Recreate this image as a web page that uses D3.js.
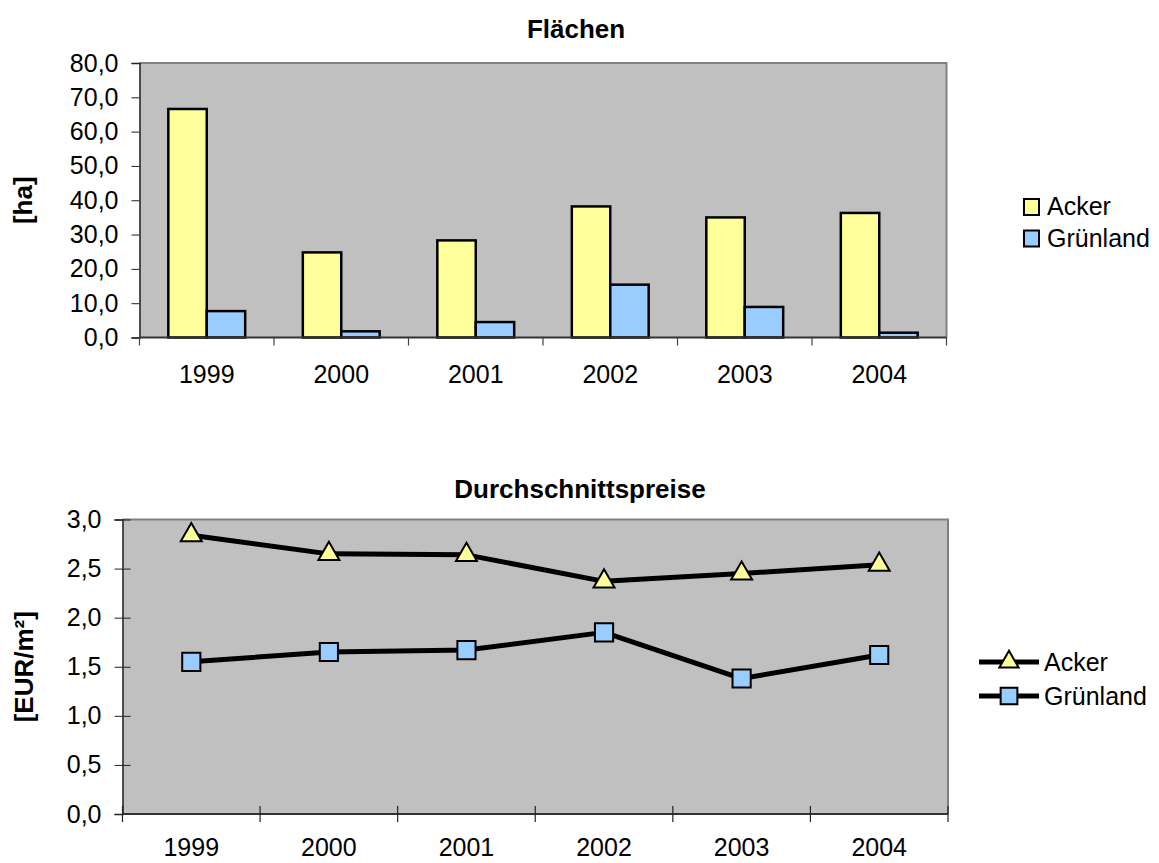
<!DOCTYPE html>
<html>
<head>
<meta charset="utf-8">
<script src="https://cdn.jsdelivr.net/npm/d3@7"></script>
<style>
  body { margin: 0; background: #fff; }
  svg { display: block; font-family: "Liberation Sans", Arial, sans-serif; }
</style>
</head>
<body>
<svg id="chart" width="1159" height="863"></svg>
<script>
// Daten
const jahre = ['1999', '2000', '2001', '2002', '2003', '2004'];
const flaecheAcker = [66.6, 24.8, 28.3, 38.2, 35.0, 36.3];
const flaecheGruenland = [7.7, 1.8, 4.5, 15.4, 8.9, 1.4];
const preisAcker = [2.84, 2.65, 2.64, 2.37, 2.45, 2.54];
const preisGruenland = [1.55, 1.65, 1.67, 1.85, 1.38, 1.62];
const serien = ['Acker', 'Grünland'];
const flaechenTicks = [0, 10, 20, 30, 40, 50, 60, 70, 80];
const preisTicks = [0, 0.5, 1, 1.5, 2, 2.5, 3];

const farben = { 'Acker': '#FFFF99', 'Grünland': '#99CCFF' };
const komma = d => d3.format('.1f')(d).replace('.', ',');
const schrift = 25;

const svg = d3.select('#chart');

// Hilfsfunktion: Plotfläche mit Rahmen
function plotflaeche(g, w, h) {
  g.append('rect').attr('width', w).attr('height', h).attr('fill', '#C0C0C0');
  g.append('path')
    .attr('d', `M0,0H${w}V${h}`)
    .attr('fill', 'none').attr('stroke', '#808080').attr('stroke-width', 2);
}

// ---------- Flächen (Balken) ----------
const o1 = { links: 139.5, oben: 63, rechts: 946.5, unten: 337.5 };
const w1 = o1.rechts - o1.links, h1 = o1.unten - o1.oben;
const g1 = svg.append('g').attr('transform', `translate(${o1.links},${o1.oben})`);
plotflaeche(g1, w1, h1);

const x1 = d3.scaleBand().domain(jahre).range([0, w1]);
const y1 = d3.scaleLinear().domain([0, 80]).range([h1, 0]);
const balkenBreite = x1.bandwidth() / 3.5;
const xs = d3.scaleBand().domain(serien).range([0, 2 * balkenBreite]);

const balkenDaten = jahre.map((j, i) => ({ jahr: j, werte: [
  { serie: 'Acker', wert: flaecheAcker[i] },
  { serie: 'Grünland', wert: flaecheGruenland[i] }
]}));

g1.selectAll('.gruppe')
  .data(balkenDaten)
  .enter().append('g')
  .attr('transform', d => `translate(${x1(d.jahr) + (x1.bandwidth() - 2 * balkenBreite) / 2},0)`)
  .selectAll('rect')
  .data(d => d.werte)
  .enter().append('rect')
  .attr('x', d => xs(d.serie))
  .attr('y', d => y1(d.wert))
  .attr('width', xs.bandwidth())
  .attr('height', d => y1(0) - y1(d.wert))
  .attr('fill', d => farben[d.serie])
  .attr('stroke', '#000')
  .attr('stroke-width', 2.5);

// y-Achse
g1.append('g')
  .call(d3.axisLeft(y1).tickValues(flaechenTicks).tickFormat(komma).tickSize(8).tickPadding(13))
  .call(g => g.select('.domain').attr('stroke', '#222').attr('stroke-width', 1.5))
  .call(g => g.selectAll('.tick line').attr('stroke', '#222'))
  .call(g => g.selectAll('.tick text').attr('font-size', schrift).attr('fill', '#000').attr('font-family', null));

// x-Achse
const ax1 = g1.append('g').attr('transform', `translate(0,${h1})`);
ax1.append('line').attr('x1', 0).attr('x2', w1).attr('stroke', '#333').attr('stroke-width', 2);
ax1.selectAll('.tk').data(jahre.concat(['ende']))
  .enter().append('line')
  .attr('x1', d => d === 'ende' ? w1 : x1(d)).attr('x2', d => d === 'ende' ? w1 : x1(d))
  .attr('y1', 0).attr('y2', 8).attr('stroke', '#444').attr('stroke-width', 1.2);
ax1.selectAll('.lbl').data(jahre)
  .enter().append('text')
  .attr('x', d => x1(d) + x1.bandwidth() / 2)
  .attr('y', 45.5)
  .attr('text-anchor', 'middle').attr('font-size', schrift)
  .text(d => d);

svg.append('text').attr('x', 576).attr('y', 38)
  .attr('text-anchor', 'middle').attr('font-weight', 'bold').attr('font-size', 26)
  .text('Flächen');
svg.append('text')
  .attr('transform', `translate(32,${o1.oben + h1 / 2}) rotate(-90)`)
  .attr('text-anchor', 'middle').attr('font-weight', 'bold').attr('font-size', 26)
  .text('[ha]');

// Legende oben
const leg1 = svg.append('g').attr('transform', 'translate(1024,199)');
serien.forEach((s, i) => {
  const e = leg1.append('g').attr('transform', `translate(0,${i * 31.5})`);
  e.append('rect').attr('width', 15).attr('height', 16)
    .attr('fill', farben[s]).attr('stroke', '#000').attr('stroke-width', 2);
  e.append('text').attr('x', 23).attr('y', 16).attr('font-size', schrift).text(s);
});

// ---------- Durchschnittspreise (Linien) ----------
const o2 = { links: 122.5, oben: 519.5, rechts: 948, unten: 814 };
const w2 = o2.rechts - o2.links, h2 = o2.unten - o2.oben;
const g2 = svg.append('g').attr('transform', `translate(${o2.links},${o2.oben})`);
plotflaeche(g2, w2, h2);

const x2 = d3.scaleBand().domain(jahre).range([0, w2]);
const y2 = d3.scaleLinear().domain([0, 3]).range([h2, 0]);
const mitte = d => x2(d) + x2.bandwidth() / 2;

g2.append('g')
  .call(d3.axisLeft(y2).tickValues(preisTicks).tickFormat(komma).tickSize(8).tickPadding(13))
  .call(g => g.select('.domain').attr('stroke', '#222').attr('stroke-width', 1.5))
  .call(g => g.selectAll('.tick line').attr('stroke', '#222').attr('x2', -8).attr('x1', 8))
  .call(g => g.selectAll('.tick text').attr('font-size', schrift).attr('fill', '#000').attr('font-family', null));

const ax2 = g2.append('g').attr('transform', `translate(0,${h2})`);
ax2.append('line').attr('x1', 0).attr('x2', w2).attr('stroke', '#333').attr('stroke-width', 2);
ax2.selectAll('.tk').data(jahre.concat(['ende']))
  .enter().append('line')
  .attr('x1', d => d === 'ende' ? w2 : x2(d)).attr('x2', d => d === 'ende' ? w2 : x2(d))
  .attr('y1', -8).attr('y2', 8).attr('stroke', '#222').attr('stroke-width', 1.2);
ax2.selectAll('.lbl').data(jahre)
  .enter().append('text')
  .attr('x', d => mitte(d))
  .attr('y', 42)
  .attr('text-anchor', 'middle').attr('font-size', schrift)
  .text(d => d);

const linien = [
  { serie: 'Acker', werte: preisAcker, symbol: d3.symbolTriangle, groesse: 190 },
  { serie: 'Grünland', werte: preisGruenland, symbol: d3.symbolSquare, groesse: 330 }
];
const linie = d3.line().x(d => mitte(d.jahr)).y(d => y2(d.wert));

linien.forEach(l => {
  const pkt = jahre.map((j, i) => ({ jahr: j, wert: l.werte[i] }));
  g2.append('path').datum(pkt).attr('d', linie)
    .attr('fill', 'none').attr('stroke', '#000').attr('stroke-width', 5).attr('stroke-linejoin', 'round');
  g2.selectAll(null).data(pkt).enter().append('path')
    .attr('transform', d => `translate(${mitte(d.jahr)},${y2(d.wert)})`)
    .attr('d', d3.symbol(l.symbol, l.groesse))
    .attr('fill', farben[l.serie]).attr('stroke', '#000').attr('stroke-width', 2);
});

svg.append('text').attr('x', 580).attr('y', 498)
  .attr('text-anchor', 'middle').attr('font-weight', 'bold').attr('font-size', 26)
  .text('Durchschnittspreise');
svg.append('text')
  .attr('transform', `translate(33,${o2.oben + h2 / 2}) rotate(-90)`)
  .attr('text-anchor', 'middle').attr('font-weight', 'bold').attr('font-size', 26)
  .text('[EUR/m²]');

// Legende unten
const leg2 = svg.append('g').attr('transform', 'translate(979,662)');
linien.forEach((l, i) => {
  const e = leg2.append('g').attr('transform', `translate(0,${i * 34})`);
  e.append('line').attr('x1', 0).attr('x2', 60).attr('stroke', '#000').attr('stroke-width', 5);
  e.append('path').attr('transform', 'translate(30,0)')
    .attr('d', d3.symbol(l.symbol, l.groesse * 0.85))
    .attr('fill', farben[l.serie]).attr('stroke', '#000').attr('stroke-width', 2);
  e.append('text').attr('x', 65).attr('y', 9).attr('font-size', schrift).text(l.serie);
});
</script>
</body>
</html>
